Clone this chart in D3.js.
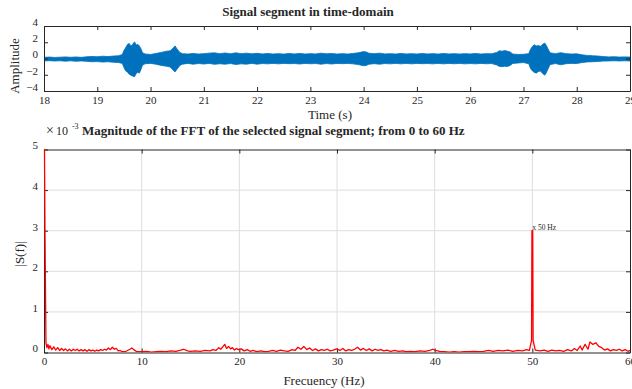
<!DOCTYPE html>
<html>
<head>
<meta charset="utf-8">
<script src="https://cdn.jsdelivr.net/npm/d3@7"></script>
<style>
  html, body { margin: 0; padding: 0; background: #fff; }
  svg { display: block; }
  text { font-family: "Liberation Serif", "Times New Roman", serif; fill: #262626; }
</style>
</head>
<body>
<svg id="chart" width="632" height="389"></svg>
<script>
// ---- Time-domain segment: envelope of the sampled signal (upper / lower extent) ----
const sigTime = [18.0,18.1,18.2,18.3,18.4,18.5,18.6,18.7,18.8,18.9,19.0,19.1,19.2,19.3,19.4,19.47,19.5,19.53,19.57,19.6,19.63,19.66,19.7,19.73,19.76,19.79,19.82,19.85,19.9,20.0,20.1,20.2,20.3,20.37,20.42,20.46,20.5,20.55,20.6,20.7,20.8,20.9,21.0,21.1,21.2,21.3,21.4,21.5,21.6,21.7,21.8,21.9,22.0,22.1,22.2,22.3,22.4,22.5,22.6,22.7,22.8,22.9,23.0,23.1,23.2,23.3,23.4,23.5,23.6,23.7,23.8,23.9,24.0,24.05,24.1,24.2,24.3,24.4,24.5,24.6,24.7,24.8,24.9,25.0,25.1,25.2,25.3,25.4,25.5,25.6,25.7,25.8,25.9,26.0,26.1,26.2,26.3,26.4,26.5,26.55,26.6,26.65,26.7,26.75,26.8,26.9,27.0,27.1,27.13,27.17,27.2,27.24,27.28,27.32,27.36,27.4,27.43,27.46,27.5,27.6,27.7,27.8,27.9,28.0,28.1,28.2,28.3,28.4,28.5,28.6,28.7,28.8,28.9,29.0];
const sigUpper = [0.14,0.18,0.13,0.16,0.20,0.15,0.19,0.14,0.21,0.25,0.22,0.28,0.24,0.30,0.34,0.5,1.0,1.3,1.75,1.85,1.55,1.7,2.05,1.65,1.75,1.55,1.2,0.7,0.55,0.5,0.62,0.75,0.9,0.95,1.25,1.55,1.15,0.75,0.6,0.55,0.62,0.55,0.6,0.66,0.7,0.6,0.68,0.58,0.7,0.6,0.66,0.58,0.64,0.56,0.62,0.55,0.6,0.54,0.62,0.56,0.63,0.55,0.6,0.56,0.66,0.58,0.62,0.55,0.6,0.55,0.62,0.7,0.85,0.8,0.65,0.6,0.66,0.56,0.6,0.55,0.62,0.56,0.6,0.55,0.62,0.56,0.6,0.55,0.62,0.56,0.6,0.55,0.6,0.56,0.62,0.55,0.6,0.58,0.75,0.95,0.9,0.98,0.9,0.8,0.55,0.5,0.52,0.6,1.1,1.5,1.7,1.55,1.6,1.5,1.75,1.9,1.6,1.2,0.7,0.6,0.72,0.6,0.55,0.58,0.45,0.38,0.34,0.3,0.24,0.2,0.22,0.18,0.2,0.18];
const sigLower = [-0.30,-0.27,-0.31,-0.28,-0.33,-0.29,-0.34,-0.30,-0.35,-0.40,-0.38,-0.44,-0.40,-0.46,-0.50,-0.6,-1.1,-1.5,-1.7,-1.95,-2.05,-2.15,-2.25,-1.85,-1.7,-1.8,-1.35,-0.8,-0.65,-0.6,-0.7,-0.85,-0.95,-1.05,-1.4,-1.65,-1.3,-0.85,-0.7,-0.6,-0.7,-0.62,-0.68,-0.6,-0.72,-0.65,-0.7,-0.62,-0.74,-0.66,-0.7,-0.6,-0.7,-0.62,-0.66,-0.6,-0.66,-0.6,-0.64,-0.62,-0.68,-0.6,-0.65,-0.62,-0.7,-0.62,-0.68,-0.6,-0.64,-0.6,-0.66,-0.75,-0.9,-0.85,-0.7,-0.64,-0.7,-0.62,-0.66,-0.6,-0.66,-0.6,-0.66,-0.6,-0.64,-0.62,-0.66,-0.6,-0.66,-0.6,-0.65,-0.6,-0.66,-0.62,-0.66,-0.6,-0.65,-0.62,-0.8,-0.98,-1.0,-0.95,-0.98,-0.85,-0.6,-0.55,-0.5,-0.65,-1.2,-1.55,-1.7,-1.8,-1.6,-1.55,-1.85,-2.05,-1.75,-1.3,-0.75,-0.62,-0.78,-0.64,-0.6,-0.62,-0.5,-0.42,-0.4,-0.36,-0.32,-0.3,-0.28,-0.3,-0.28,-0.3];

const timeTicks = [18,19,20,21,22,23,24,25,26,27,28,29];
const ampTicks = [-4,-2,0,2,4];

// ---- FFT magnitude |S(f)| in units of 1e-3 ----
const freqHz = [0,0.05,0.1,0.2,0.3,0.4,0.5,0.6,0.8,1.0,1.2,1.4,1.6,1.8,2.0,2.2,2.4,2.6,2.8,3.0,3.2,3.4,3.6,3.8,4.0,4.2,4.4,4.6,4.8,5.0,5.2,5.4,5.6,5.8,6.0,6.2,6.4,6.6,6.8,7.0,7.2,7.4,7.6,7.8,8.0,8.4,8.8,9.0,9.2,9.5,10,10.5,11,11.5,12,12.5,13,13.5,14,14.3,14.7,15,15.5,16,16.5,17,17.3,17.6,17.9,18.1,18.3,18.5,18.7,18.9,19.1,19.3,19.5,19.7,19.9,20.2,20.5,20.8,21.1,21.4,21.8,22.2,22.6,23,23.4,23.8,24.2,24.6,25,25.4,25.7,26,26.3,26.6,26.9,27.2,27.5,27.8,28.1,28.4,28.7,29,29.3,29.6,30,30.3,30.6,30.9,31.2,31.5,31.8,32.1,32.4,32.7,33,33.3,33.6,33.9,34.2,34.5,34.8,35.1,35.5,35.9,36.3,36.7,37.1,37.5,38,38.5,39,39.5,39.8,40.1,40.5,41,41.5,42,42.5,43,43.5,44,44.5,45,45.5,46,46.5,47,47.5,48,48.5,49,49.4,49.7,49.92,49.96,50.04,50.08,50.3,50.5,50.8,51.2,51.6,52,52.4,52.8,53.2,53.6,54,54.3,54.6,54.9,55.1,55.4,55.7,55.9,56.2,56.5,56.8,57.1,57.4,57.7,58,58.3,58.6,58.9,59.2,59.5,59.8,60];
const magnitude = [5.0,5.0,3.0,0.24,0.12,0.2,0.09,0.17,0.07,0.14,0.06,0.12,0.05,0.1,0.05,0.09,0.04,0.08,0.04,0.08,0.05,0.08,0.04,0.07,0.04,0.07,0.03,0.07,0.04,0.06,0.03,0.06,0.04,0.07,0.05,0.08,0.06,0.11,0.07,0.13,0.08,0.1,0.04,0.05,0.02,0.03,0.08,0.11,0.07,0.02,0.02,0.03,0.01,0.02,0.03,0.02,0.04,0.03,0.06,0.08,0.04,0.03,0.04,0.03,0.05,0.04,0.07,0.05,0.12,0.08,0.14,0.2,0.1,0.15,0.09,0.12,0.06,0.1,0.07,0.09,0.04,0.07,0.03,0.05,0.02,0.04,0.02,0.03,0.05,0.03,0.06,0.04,0.03,0.07,0.05,0.13,0.08,0.15,0.07,0.11,0.05,0.09,0.04,0.07,0.05,0.08,0.04,0.06,0.09,0.05,0.1,0.04,0.07,0.05,0.08,0.13,0.06,0.1,0.05,0.09,0.04,0.08,0.05,0.07,0.04,0.06,0.03,0.05,0.03,0.04,0.02,0.03,0.02,0.04,0.03,0.05,0.08,0.05,0.03,0.02,0.01,0.02,0.01,0.02,0.02,0.03,0.02,0.03,0.05,0.03,0.05,0.04,0.06,0.03,0.05,0.04,0.07,0.05,0.3,3.0,3.0,0.3,0.06,0.05,0.04,0.06,0.03,0.06,0.04,0.05,0.03,0.07,0.04,0.1,0.05,0.16,0.06,0.2,0.08,0.26,0.2,0.24,0.15,0.12,0.06,0.09,0.04,0.07,0.05,0.08,0.04,0.07,0.03,0.05];

const freqTicks = [0,10,20,30,40,50,60];
const magTicks = [0,1,2,3,4,5];

// Peak annotation
const peakFreq = 50;
const peakMag = 3.0;
const peakLabel = "x 50 Hz";

const svg = d3.select("#chart");
const defs = svg.append("defs");
const axisColor = "#262626";

function styleAxis(g) {
  g.selectAll("path.domain").attr("stroke", axisColor).attr("stroke-width", 1);
  g.selectAll(".tick line").attr("stroke", axisColor).attr("stroke-width", 1);
  g.selectAll(".tick text")
    .attr("fill", axisColor)
    .style("font-family", '"Liberation Serif", "Times New Roman", serif')
    .style("font-size", "11px");
}

function drawFrame(x, y, box, xTicks, yTicks, fmtY) {
  const gx = svg.append("g").attr("transform", `translate(0,${box.bottom})`)
    .call(d3.axisBottom(x).tickValues(xTicks).tickSizeInner(-4).tickSizeOuter(0).tickPadding(5));
  styleAxis(gx);
  gx.selectAll(".tick text").attr("dy", "0.71em");
  const gxt = svg.append("g").attr("transform", `translate(0,${box.top})`)
    .call(d3.axisTop(x).tickValues(xTicks).tickSizeInner(-4).tickSizeOuter(0).tickFormat(""));
  styleAxis(gxt);
  const gy = svg.append("g").attr("transform", `translate(${box.left},0)`)
    .call(d3.axisLeft(y).tickValues(yTicks).tickSizeInner(-4).tickSizeOuter(0).tickPadding(6).tickFormat(fmtY));
  styleAxis(gy);
  gy.selectAll(".tick text").attr("dy", "-0.05em");
  const gyr = svg.append("g").attr("transform", `translate(${box.right},0)`)
    .call(d3.axisRight(y).tickValues(yTicks).tickSizeInner(-4).tickSizeOuter(0).tickFormat(""));
  styleAxis(gyr);
}

// ================= Top panel: time domain =================
const topBox = { left: 44, right: 630, top: 26, bottom: 91 };
const xT = d3.scaleLinear().domain([18, 29]).range([topBox.left, topBox.right]);
const yT = d3.scaleLinear().domain([-4, 4]).range([topBox.bottom, topBox.top]);

defs.append("clipPath").attr("id", "clipTop")
  .append("rect").attr("x", topBox.left).attr("y", topBox.top)
  .attr("width", topBox.right - topBox.left).attr("height", topBox.bottom - topBox.top);

const sigData = sigTime.map((t, i) => ({ t, hi: sigUpper[i], lo: sigLower[i] }));
svg.append("path")
  .datum(sigData)
  .attr("clip-path", "url(#clipTop)")
  .attr("fill", "#0072BD")
  .attr("stroke", "#0072BD")
  .attr("stroke-width", 0.8)
  .attr("d", d3.area().x(d => xT(d.t)).y0(d => yT(d.lo)).y1(d => yT(d.hi)));

drawFrame(xT, yT, topBox, timeTicks, ampTicks, d3.format("d"));

svg.append("text").attr("x", 308).attr("y", 16).attr("text-anchor", "middle")
  .style("font-size", "13px").style("font-weight", "bold").attr("fill", "#000")
  .text("Signal segment in time-domain");
svg.append("text").attr("x", 330).attr("y", 119).attr("text-anchor", "middle")
  .style("font-size", "13px").text("Time (s)");
svg.append("text").attr("transform", "translate(19,66) rotate(-90)").attr("text-anchor", "middle")
  .style("font-size", "13px").text("Amplitude");

// ================= Bottom panel: FFT magnitude =================
const botBox = { left: 44, right: 630, top: 149.5, bottom: 352.5 };
const xF = d3.scaleLinear().domain([0, 60]).range([botBox.left, botBox.right]);
const yF = d3.scaleLinear().domain([0, 5]).range([botBox.bottom, botBox.top]);

// grid
const grid = svg.append("g").attr("stroke", "#dedede").attr("stroke-width", 1);
grid.selectAll("line.gx").data(freqTicks.slice(1, -1)).join("line")
  .attr("x1", d => xF(d)).attr("x2", d => xF(d)).attr("y1", botBox.top).attr("y2", botBox.bottom);
grid.selectAll("line.gy").data(magTicks.slice(1, -1)).join("line")
  .attr("y1", d => yF(d)).attr("y2", d => yF(d)).attr("x1", botBox.left).attr("x2", botBox.right);

drawFrame(xF, yF, botBox, freqTicks, magTicks, d3.format("d"));

defs.append("clipPath").attr("id", "clipBot")
  .append("rect").attr("x", botBox.left - 1).attr("y", botBox.top - 1)
  .attr("width", botBox.right - botBox.left + 1).attr("height", botBox.bottom - botBox.top + 1);

// spectrum trace drawn over the axes
const fftData = freqHz.map((f, i) => ({ f, m: magnitude[i] }));
svg.append("path")
  .datum(fftData)
  .attr("clip-path", "url(#clipBot)")
  .attr("fill", "none")
  .attr("stroke", "#ff0000")
  .attr("stroke-width", 1.3)
  .attr("stroke-linejoin", "round")
  .attr("d", d3.line().x(d => xF(d.f)).y(d => yF(d.m)));

// peak annotation
svg.append("text").attr("x", xF(peakFreq)).attr("y", yF(peakMag) - 0.5)
  .style("font-size", "7.5px").attr("fill", "#262626").text(peakLabel);

// exponent marker
const expo = svg.append("text").attr("x", 46).attr("y", 135).style("font-size", "12px");
expo.append("tspan").style("font-size", "14px").style("font-weight", "300").text("\u00d7");
expo.append("tspan").attr("dx", "2").text("10");
expo.append("tspan").attr("dx", "4").attr("dy", "-6").style("font-size", "8px").text("-3");

svg.append("text").attr("x", 82).attr("y", 135)
  .style("font-size", "13px").style("font-weight", "bold").attr("fill", "#000")
  .text("Magnitude of the FFT of the selected signal segment; from 0 to 60 Hz");
svg.append("text").attr("x", 324).attr("y", 385).attr("text-anchor", "middle")
  .style("font-size", "13px").text("Frecuency (Hz)");
svg.append("text").attr("transform", "translate(24,254) rotate(-90)").attr("text-anchor", "middle")
  .style("font-size", "13px").text("|S(f)|");
</script>
</body>
</html>
